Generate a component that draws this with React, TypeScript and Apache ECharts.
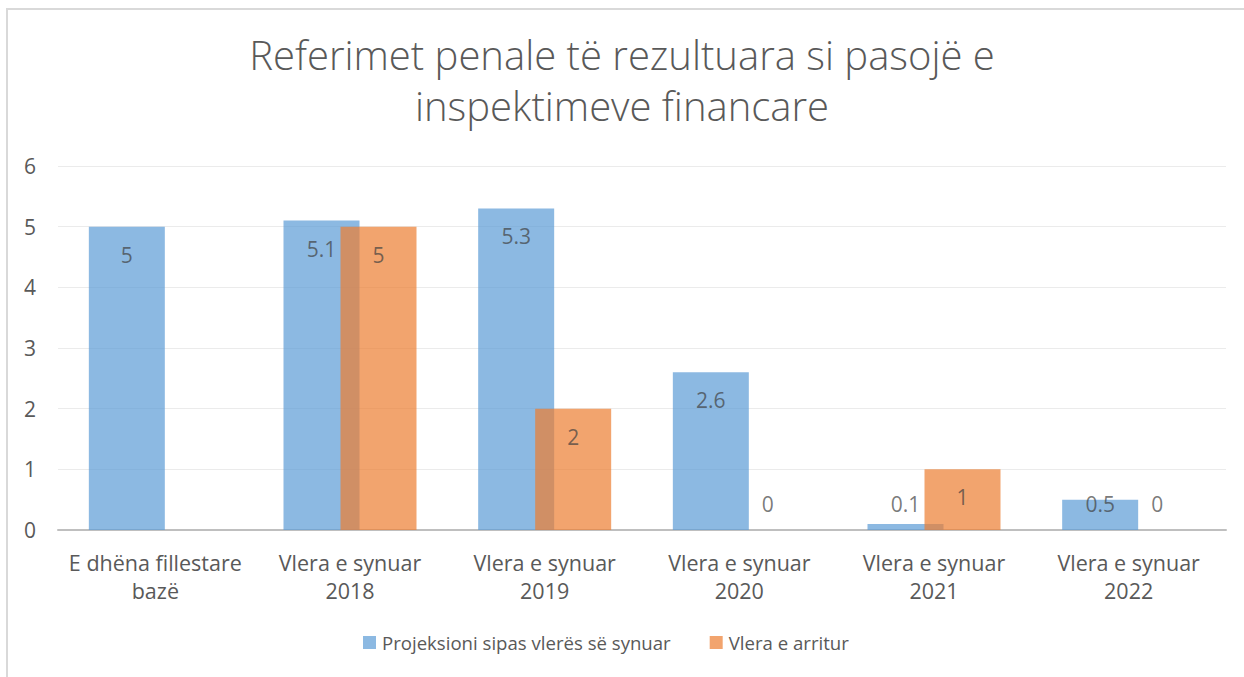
import React, { useEffect, useRef } from "react";
import * as echarts from "echarts";

const categories = [
  "E dhëna fillestare bazë",
  "Vlera e synuar 2018",
  "Vlera e synuar 2019",
  "Vlera e synuar 2020",
  "Vlera e synuar 2021",
  "Vlera e synuar 2022",
];
const projeksioni = [5, 5.1, 5.3, 2.6, 0.1, 0.5];
const arritur: (number | null)[] = [null, 5, 2, 0, 1, 0];
const yTicks = [0, 1, 2, 3, 4, 5, 6];
const seriesNames = ["Projeksioni sipas vlerës së synuar", "Vlera e arritur"];
const titleText = "Referimet penale të rezultuara si pasojë e\ninspektimeve financare";

const FONT = "Open Sans";
const TXT = "#595959";

function items(values: (number | null)[]) {
  return values.map((v) => {
    if (v === null) return { value: null, label: { show: false } };
    const small = v <= 0.6;
    return {
      value: v,
      label: small
        ? { position: "insideBottom", distance: 15 }
        : { position: "insideTop", distance: 17 },
    };
  });
}

export default function App() {
  const ref = useRef<HTMLDivElement>(null);
  useEffect(() => {
    if (!ref.current) return;
    const chart = echarts.init(ref.current, null, { renderer: "svg" });
    const labelStyle = {
      show: true,
      color: "#404040",
      fontFamily: FONT,
      fontSize: 21,
      lineHeight: 22,
    };
    chart.setOption({
      animation: false,
      backgroundColor: "#ffffff",
      title: {
        text: titleText,
        left: "center",
        top: 24,
        textStyle: {
          fontFamily: FONT,
          fontWeight: 300,
          fontSize: 40,
          lineHeight: 51,
          color: TXT,
        },
      },
      graphic: [
        {
          type: "rect",
          shape: { x: 7, y: 9, width: 1300, height: 700 },
          style: { fill: "none", stroke: "#d9d9d9", lineWidth: 2 },
          silent: true,
        },
      ],
      legend: {
        left: 363,
        top: 633,
        padding: 0,
        itemWidth: 13,
        itemHeight: 13,
        itemGap: 39,
        icon: "rect",
        textStyle: { fontFamily: FONT, fontSize: 18.6, color: TXT, padding: [0, 0, 0, 1] },
        data: seriesNames,
      },
      grid: { left: 58, right: 18, top: 166, bottom: 147, containLabel: false },
      xAxis: {
        type: "category",
        data: categories,
        axisLine: { lineStyle: { color: "#bfbfbf", width: 2 } },
        axisTick: { show: false },
        axisLabel: {
          interval: 0,
          color: TXT,
          fontFamily: FONT,
          fontSize: 21.5,
          lineHeight: 28,
          margin: 18,
          formatter: (s: string) => s.replace(/ (\S+)$/, "\n$1"),
        },
      },
      yAxis: {
        type: "value",
        min: yTicks[0],
        max: yTicks[yTicks.length - 1],
        interval: 1,
        axisLine: { show: false },
        axisTick: { show: false },
        splitLine: { lineStyle: { color: "#ebebeb", width: 1 } },
        axisLabel: { color: TXT, fontFamily: FONT, fontSize: 21, margin: 22 },
      },
      series: [
        {
          name: seriesNames[0],
          type: "bar",
          data: items(projeksioni),
          barWidth: 76,
          barGap: "-25%",
          itemStyle: { color: "#5B9BD5", opacity: 0.7 },
          label: labelStyle,
        },
        {
          name: seriesNames[1],
          type: "bar",
          data: items(arritur),
          barWidth: 76,
          barGap: "-25%",
          itemStyle: { color: "#ED7D31", opacity: 0.7 },
          label: labelStyle,
        },
      ],
    });
    return () => chart.dispose();
  }, []);
  return (
    <div
      style={{
        position: "fixed",
        left: 0,
        top: 0,
        width: 1244,
        height: 677,
        overflow: "hidden",
        background: "#fff",
      }}
    >
      <div ref={ref} style={{ width: 1244, height: 677 }} />
    </div>
  );
}
